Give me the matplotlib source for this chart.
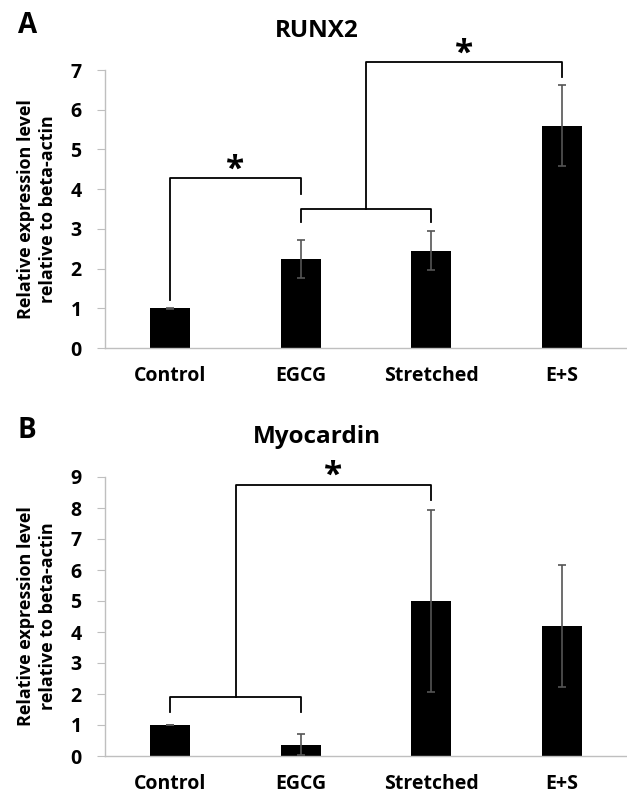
import numpy as np
import matplotlib
matplotlib.use("Agg")
import matplotlib.pyplot as plt

plt.rcParams['font.family'] = ['Open Sans', 'DejaVu Sans']
plt.rcParams['font.weight'] = 'bold'

groups = ['Control', 'EGCG', 'Stretched', 'E+S']

runx2 = [1.0, 2.24, 2.45, 5.6]
runx2_err = [0.01, 0.47, 0.49, 1.01]

myo = [1.0, 0.36, 5.0, 4.2]
myo_err = [0.01, 0.34, 2.92, 1.97]

ylab = 'Relative expression level\nrelative to beta-actin'

W, H = 627, 796
fig = plt.figure(figsize=(W / 100, H / 100), dpi=100)
axA = fig.add_axes([105 / W, 1 - 348 / H, 522 / W, 278 / H])
axB = fig.add_axes([105 / W, 1 - 756 / H, 522 / W, 279 / H])

def style(ax, vals, errs, ymax):
    x = np.arange(len(groups))
    ax.bar(x, vals, width=0.31, color='black', zorder=2)
    ax.errorbar(x, vals, yerr=errs, fmt='none', ecolor='#555555',
                elinewidth=1.2, capsize=3, capthick=1.2, zorder=3)
    ax.set_xlim(-0.5, 3.5)
    ax.set_ylim(0, ymax)
    ax.set_yticks(range(ymax + 1))
    ax.set_xticks(x)
    ax.set_xticklabels(groups, fontsize=14, fontweight='bold')
    ax.tick_params(axis='x', length=0, pad=13)
    ax.tick_params(axis='y', length=5.8, color='#bfbfbf', labelsize=14, pad=11)
    for lab in ax.get_yticklabels():
        lab.set_fontweight('bold')
    for s in ['top', 'right']:
        ax.spines[s].set_visible(False)
    for s in ['left', 'bottom']:
        ax.spines[s].set_color('#bfbfbf')
        ax.spines[s].set_linewidth(1.0)
    ax.set_ylabel(ylab, fontsize=13, fontweight='bold', linespacing=1.3)
    ax.yaxis.set_label_coords(-48 / 522, 0.5)

def line(ax, xs, ys):
    ax.plot(xs, ys, color='black', lw=1.3, clip_on=False, zorder=4)

style(axA, runx2, runx2_err, 7)
style(axB, myo, myo_err, 9)

# RUNX2 brackets
line(axA, [0, 0, 1, 1], [1.22, 4.27, 4.27, 3.88])
axA.text(0.5, 4.48, '*', ha='center', va='center', fontsize=24, fontweight='bold')
line(axA, [1, 1, 2, 2], [3.17, 3.51, 3.51, 3.17])
line(axA, [1.5, 1.5, 3, 3], [3.51, 7.21, 7.21, 6.83])
axA.text(2.25, 7.4, '*', ha='center', va='center', fontsize=24, fontweight='bold',
         clip_on=False)

# Myocardin brackets
line(axB, [0, 0, 1, 1], [1.41, 1.9, 1.9, 1.41])
line(axB, [0.5, 0.5, 2, 2], [1.9, 8.73, 8.73, 8.25])
axB.text(1.25, 9.02, '*', ha='center', va='center', fontsize=24, fontweight='bold',
         clip_on=False)

fig.text(317 / W, 1 - 37 / H, 'RUNX2', ha='center', va='baseline', fontsize=17.5, fontweight='bold')
fig.text(317 / W, 1 - 443 / H, 'Myocardin', ha='center', va='baseline', fontsize=17.5, fontweight='bold')
fig.text(18 / W, 1 - 33 / H, 'A', ha='left', va='baseline', fontsize=20, fontweight='bold')
fig.text(18 / W, 1 - 438 / H, 'B', ha='left', va='baseline', fontsize=20, fontweight='bold')

fig.savefig('out.png', dpi=100, facecolor='white')
